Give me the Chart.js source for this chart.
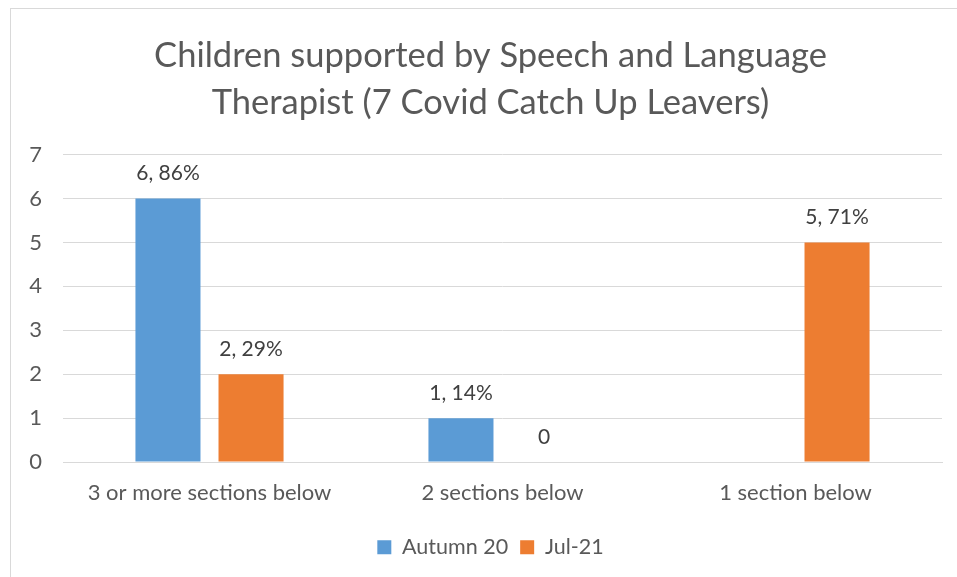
<!DOCTYPE html>
<html>
<head>
<meta charset="utf-8">
<script src="https://cdn.jsdelivr.net/npm/chart.js@4.4.0/dist/chart.umd.min.js"></script>
<style>
  html, body { margin: 0; padding: 0; background: #fff; overflow: hidden; }
  #frame {
    position: absolute; left: 10px; top: 8px;
    width: 960px; height: 569px;
    border-left: 1px solid #d9d9d9; border-top: 1px solid #d9d9d9;
  }
</style>
</head>
<body>
<div id="frame"><canvas id="chart" width="959" height="568"></canvas></div>
<script>
// ---- data ----
const categories = ['3 or more sections below', '2 sections below', '1 section below'];
const autumn20 = [6, 1, null];
const jul21 = [2, 0, 5];
const autumnLabels = ['6, 86%', '1, 14%', null];
const julLabels = ['2, 29%', '0', '5, 71%'];
const yTicks = [0, 1, 2, 3, 4, 5, 6, 7];

const FONT = 'Lato, "Open Sans", sans-serif';

// value labels above the bars
const barLabels = {
    id: 'barLabels',
    afterDatasetsDraw(chart) {
        const ctx = chart.ctx;
        const y = chart.scales.y;
        ctx.save();
        ctx.font = '21px ' + FONT;
        ctx.fillStyle = '#404040';
        ctx.textAlign = 'center';
        ctx.textBaseline = 'middle';
        chart.data.datasets.forEach((ds, di) => {
            chart.getDatasetMeta(di).data.forEach((bar, i) => {
                const txt = ds.valueLabels[i];
                if (txt == null) return;
                ctx.fillText(txt, bar.x, y.getPixelForValue(ds.data[i]) - 25);
            });
        });
        ctx.restore();
    }
};

new Chart(document.getElementById('chart'), {
    type: 'bar',
    data: {
        labels: categories,
        datasets: [
            { label: 'Autumn 20', data: autumn20, valueLabels: autumnLabels, backgroundColor: '#5B9BD5' },
            { label: 'Jul-21', data: jul21, valueLabels: julLabels, backgroundColor: '#ED7D31' }
        ]
    },
    options: {
        responsive: false,
        animation: false,
        categoryPercentage: 0.567,
        barPercentage: 0.783,
        layout: { padding: { left: 0, right: 0, top: 0, bottom: 9 } },
        plugins: {
            title: {
                display: true,
                text: ['Children supported by Speech and Language', 'Therapist (7 Covid Catch Up Leavers)'],
                color: '#595959',
                font: { family: FONT, size: 34.5, weight: 'normal', lineHeight: 1.37 },
                padding: { top: 23, bottom: 28 }
            },
            legend: {
                position: 'bottom',
                labels: {
                    color: '#595959',
                    font: { family: FONT, size: 21.5 },
                    boxWidth: 14, boxHeight: 14,
                    padding: 12
                }
            },
            tooltip: { enabled: false }
        },
        scales: {
            x: {
                grid: { display: false, drawTicks: false },
                border: { color: '#d9d9d9' },
                ticks: { color: '#595959', font: { family: FONT, size: 22 }, padding: 18, maxRotation: 0 }
            },
            y: {
                min: 0, max: 7,
                afterBuildTicks: s => { s.ticks = yTicks.map(v => ({ value: v })); },
                afterFit: s => { s.width = 52; },
                grid: { color: '#d9d9d9', drawTicks: false },
                border: { display: false },
                ticks: { color: '#595959', font: { family: FONT, size: 22 }, padding: 21 }
            },
            // empty right-hand axis, only reserves the margin right of the plot
            yRight: {
                position: 'right',
                min: 0, max: 7,
                afterFit: s => { s.width = 28; },
                grid: { display: false, drawTicks: false },
                border: { display: false },
                ticks: { display: false }
            }
        }
    },
    plugins: [barLabels]
});
</script>
</body>
</html>
